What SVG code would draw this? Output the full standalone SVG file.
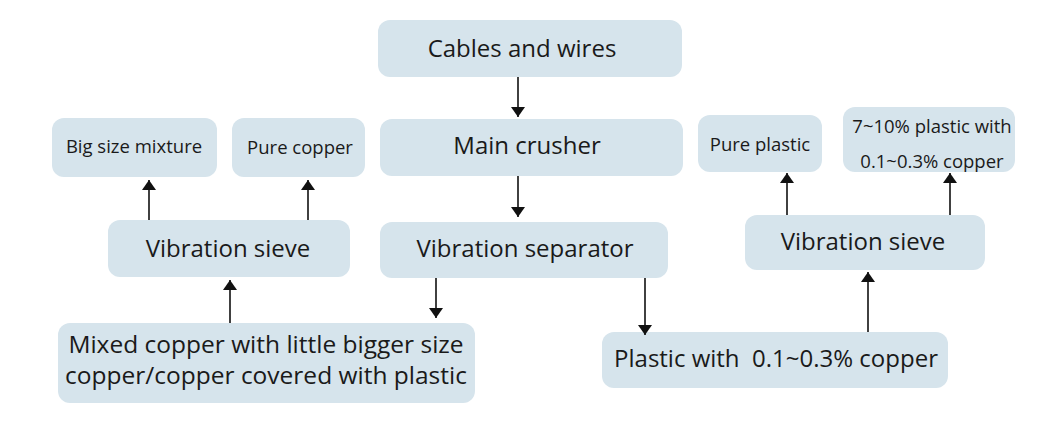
<svg xmlns="http://www.w3.org/2000/svg" width="1060" height="428" viewBox="0 0 1060 428">
<defs>
<marker id="ah" viewBox="0 0 10 14" refX="10" refY="7" markerWidth="10" markerHeight="14" markerUnits="userSpaceOnUse" orient="auto">
<path d="M0,0 L10,7 L0,14 Z" fill="#111"/>
</marker>
<style>
.box{fill:#d6e4ec;}
.t{font-family:"Open Sans","Liberation Sans",sans-serif;fill:#1a1a1a;text-anchor:middle;}
.l{font-size:24px;}
.m{font-size:24.5px;}
.s{font-size:18.5px;}
.c{stroke:#111;stroke-width:1.6;fill:none;marker-end:url(#ah);}
</style>
</defs>
<rect width="1060" height="428" fill="#ffffff"/>
<g id="cables"><rect class="box" x="378" y="20" width="304" height="57" rx="12"/><text class="t l" x="522" y="57">Cables and wires</text></g>
<g id="crusher"><rect class="box" x="380" y="119" width="303" height="57" rx="12"/><text class="t l" x="527" y="154">Main crusher</text></g>
<g id="separator"><rect class="box" x="380" y="222" width="288" height="56" rx="12"/><text class="t l" x="525" y="257">Vibration separator</text></g>
<g id="sieve-left"><rect class="box" x="108" y="220" width="242" height="57" rx="12"/><text class="t l" x="228" y="257">Vibration sieve</text></g>
<g id="big-size"><rect class="box" x="52" y="118" width="165" height="59" rx="12"/><text class="t s" x="134" y="153">Big size mixture</text></g>
<g id="pure-copper"><rect class="box" x="232" y="118" width="133" height="59" rx="12"/><text class="t s" x="300" y="154">Pure copper</text></g>
<g id="mixed"><rect class="box" x="58" y="323" width="417" height="80" rx="12"/><text class="t m" x="266" y="353">Mixed copper with little bigger size</text><text class="t m" x="266" y="384">copper/copper covered with plastic</text></g>
<g id="plastic"><rect class="box" x="602" y="332" width="346" height="56" rx="12"/><text class="t l" x="776" y="367">Plastic with&#160; 0.1~0.3% copper</text></g>
<g id="sieve-right"><rect class="box" x="745" y="215" width="240" height="55" rx="12"/><text class="t l" x="863" y="250">Vibration sieve</text></g>
<g id="pure-plastic"><rect class="box" x="698" y="115" width="124" height="57" rx="12"/><text class="t s" x="760" y="151">Pure plastic</text></g>
<g id="mix-plastic"><rect class="box" x="843" y="107" width="172" height="65" rx="12"/><text class="t s" x="932" y="133">7~10% plastic with</text><text class="t s" x="932" y="168">0.1~0.3% copper</text></g>
<g id="connectors">
<line class="c" x1="518" y1="77" x2="518" y2="117"/>
<line class="c" x1="518" y1="176" x2="518" y2="217"/>
<line class="c" x1="436" y1="278" x2="436" y2="318"/>
<line class="c" x1="645" y1="278" x2="645" y2="335"/>
<line class="c" x1="230" y1="323" x2="230" y2="280"/>
<line class="c" x1="149" y1="220" x2="149" y2="180"/>
<line class="c" x1="308" y1="220" x2="308" y2="180"/>
<line class="c" x1="868" y1="332" x2="868" y2="272"/>
<line class="c" x1="787" y1="215" x2="787" y2="173"/>
<line class="c" x1="950" y1="215" x2="950" y2="173"/>
</g>
</svg>
